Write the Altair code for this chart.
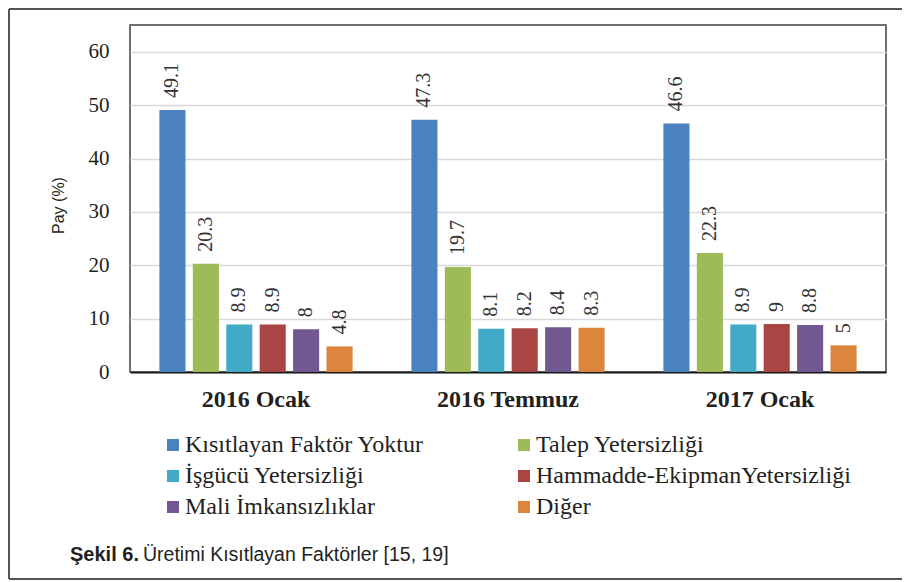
import altair as alt
import pandas as pd

groups = ["2016 Ocak", "2016 Temmuz", "2017 Ocak"]
series = [
    "Kısıtlayan Faktör Yoktur",
    "Talep Yetersizliği",
    "İşgücü Yetersizliği",
    "Hammadde-EkipmanYetersizliği",
    "Mali İmkansızlıklar",
    "Diğer",
]
kisitlayan = [49.1, 47.3, 46.6]
talep = [20.3, 19.7, 22.3]
isgucu = [8.9, 8.1, 8.9]
hammadde = [8.9, 8.2, 9]
mali = [8, 8.4, 8.8]
diger = [4.8, 8.3, 5]
colors = ["#4A81BF", "#9DBB59", "#41ABC7", "#A94543", "#715891", "#DC853C"]
y_ticks = [0, 10, 20, 30, 40, 50, 60]

SERIF = "Liberation Serif, Times New Roman, DejaVu Serif, serif"
SANS = "Liberation Sans, Arial, sans-serif"

rows = []
for s, vals in zip(series, [kisitlayan, talep, isgucu, hammadde, mali, diger]):
    for g, v in zip(groups, vals):
        rows.append({"Dönem": g, "Faktör": s, "Pay": v, "Etiket": f"{v:g}"})
df = pd.DataFrame(rows)

# legend fills column by column: reorder so rows read like the reference
legend_order = [0, 2, 4, 1, 3, 5]
legend_domain = [series[i] for i in legend_order]
legend_range = [colors[i] for i in legend_order]

W, H = 756, 347
PAD = {"left": 122, "top": 17, "right": 16, "bottom": 208}

x = alt.X(
    "Dönem:N",
    sort=groups,
    scale=alt.Scale(paddingInner=0, paddingOuter=0),
    axis=alt.Axis(
        title=None, labelAngle=0, labelFont=SERIF, labelFontSize=24,
        labelFontWeight="bold", labelColor="#231f20", labelPadding=15,
        ticks=False, tickSize=0, domainColor="#1a1a1a", domainWidth=2, grid=False,
    ),
)
xo = alt.XOffset("Faktör:N", sort=series,
                 scale=alt.Scale(paddingInner=0.22, paddingOuter=0.88))
y = alt.Y(
    "Pay:Q",
    scale=alt.Scale(domain=[0, 65.06], nice=False, zero=True),
    axis=alt.Axis(
        values=y_ticks, title="Pay (%)", titleFont=SANS, titleFontSize=16,
        titleFontWeight="normal", titleColor="#231f20", titleX=-67, titleY=180,
        titleBaseline="alphabetic", titleAngle=270,
        labelFont=SERIF, labelFontSize=21, labelColor="#231f20",
        labelPadding=21, ticks=False, tickSize=0, domain=False,
        grid=True, gridColor="#d9d9d9", gridWidth=1.5,
    ),
)
color = alt.Color(
    "Faktör:N",
    scale=alt.Scale(domain=legend_domain, range=legend_range),
    legend=alt.Legend(
        title=None, orient="none", legendX=31, legendY=408, columns=2,
        columnPadding=88, rowPadding=7, symbolType="square", symbolSize=144,
        symbolStrokeWidth=0, labelFont=SERIF, labelFontSize=24,
        labelColor="#231f20", labelOffset=0, labelLimit=500, padding=0,
    ),
)

bars = alt.Chart(df).mark_bar().encode(x=x, xOffset=xo, y=y, color=color)
labels = alt.Chart(df).mark_text(
    angle=270, align="left", baseline="middle", dx=12,
    font=SERIF, fontSize=20, color="#333333",
).encode(x=x, xOffset=xo, y=y, text="Etiket:N")

dummy = pd.DataFrame({"k": [0]})
border_left = alt.Chart(dummy).mark_rule(color="#555555", strokeWidth=2).encode(
    x=alt.value(-121), y=alt.value(-16), y2=alt.value(H + PAD["bottom"] - 1))
border_top = alt.Chart(dummy).mark_rule(color="#555555", strokeWidth=2).encode(
    x=alt.value(-121), x2=alt.value(W + PAD["right"]), y=alt.value(-16))
border_bottom = alt.Chart(dummy).mark_rule(color="#555555", strokeWidth=2).encode(
    x=alt.value(-121), x2=alt.value(W + PAD["right"]), y=alt.value(H + PAD["bottom"] - 1))

cap1 = alt.Chart(dummy).mark_text(
    text="Şekil 6.", font=SANS, fontSize=20, fontWeight="bold",
    align="left", baseline="alphabetic", color="#231f20",
).encode(x=alt.value(-60), y=alt.value(536))
cap2 = alt.Chart(dummy).mark_text(
    text="Üretimi Kısıtlayan Faktörler [15, 19]", font=SANS, fontSize=19.5,
    align="left", baseline="alphabetic", color="#231f20",
).encode(x=alt.value(13), y=alt.value(536))

chart = alt.layer(bars, labels, border_left, border_top, border_bottom, cap1, cap2).properties(
    width=W, height=H,
    autosize=alt.AutoSizeParams(type="none"),
    padding=PAD,
    background="white",
).configure_view(stroke="#404040", strokeWidth=1.5)

chart.save("out.html", embed_options={"renderer": "svg", "actions": False})
